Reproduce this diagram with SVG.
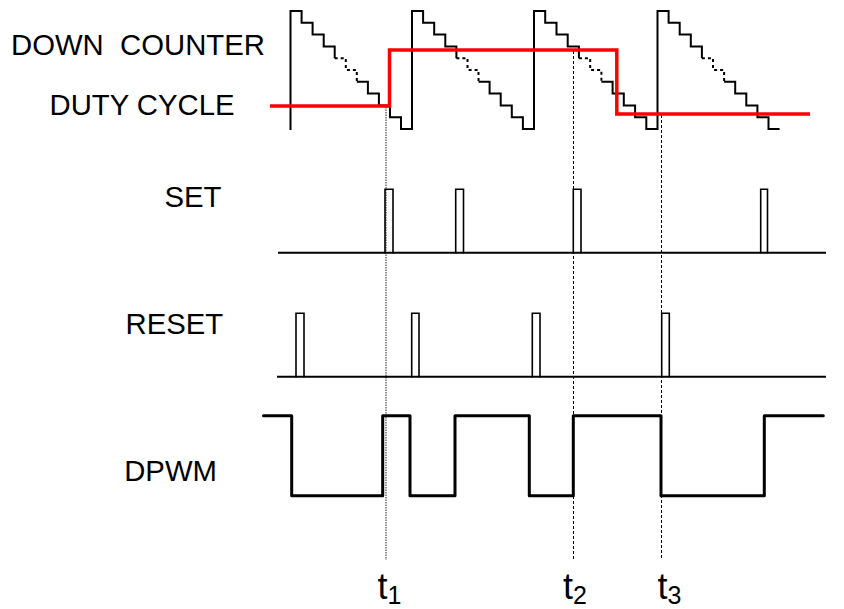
<svg xmlns="http://www.w3.org/2000/svg" width="844" height="609" viewBox="0 0 844 609">
  <style>
    .lbl { font-family: "Liberation Sans", Arial, sans-serif; font-size: 29.3px; fill: #000; white-space: pre; }
    .tlbl { font-family: "Liberation Sans", Arial, sans-serif; font-size: 36px; fill: #000; }
    .sub { font-size: 25px; }
    .wave { fill: none; stroke: #000; stroke-width: 2; stroke-linejoin: miter; }
    .dash { fill: none; stroke: #000; stroke-width: 2; stroke-dasharray: 3 3; }
    .pulse { fill: none; stroke: #000; stroke-width: 1.6; stroke-linecap: square; }
    .base { fill: none; stroke: #000; stroke-width: 2; }
    .duty { fill: none; stroke: #ff0000; stroke-width: 3.5; stroke-linejoin: miter; }
    .dpwm { fill: none; stroke: #000; stroke-width: 3; stroke-linejoin: round; stroke-linecap: round; }
    .mark { fill: none; stroke: #000; stroke-width: 1; stroke-dasharray: 3 2; }
    .mark-grey { fill: none; stroke: #707070; stroke-width: 1.5; stroke-dasharray: 1.5 1; }
  </style>

  <!-- time markers -->
  <g id="markers">
    <line class="mark-grey" x1="386" y1="107" x2="386" y2="560"/>
    <line class="mark" x1="573.5" y1="51" x2="573.5" y2="560"/>
    <line class="mark" x1="661.5" y1="115" x2="661.5" y2="560"/>
  </g>

  <!-- row labels -->
  <g id="labels">
    <text class="lbl" x="11" y="55">DOWN  COUNTER</text>
    <text class="lbl" x="49.5" y="115">DUTY CYCLE</text>
    <text class="lbl" x="164.5" y="207">SET</text>
    <text class="lbl" x="125.5" y="334">RESET</text>
    <text class="lbl" x="124.2" y="480.5">DPWM</text>
  </g>

  <!-- down counter staircase, four periods -->
  <g id="counter">
    <path class="wave" d="M290.5,130 V11 H301.6 V22.8 H312.6 V34.6 H323.7 V46.4 H334.7 V58.2"/>
    <path class="dash" d="M334.7,58.2 H345.8 V70 H356.8 V81.8"/>
    <path class="wave" d="M356.8,81.8 H367.9 V93.6 H378.9 V105.4 H390 V117.2 H401 V129 H412
             V11 H423.1 V22.8 H434.2 V34.6 H445.3 V46.4 H456.4 V58.2"/>
    <path class="dash" d="M456.4,58.2 H467.5 V70 H478.5 V81.8"/>
    <path class="wave" d="M478.5,81.8 H489.6 V93.6 H500.7 V105.4 H511.8 V117.2 H522.9 V129 H534
             V11 H545.2 V22.8 H556.5 V34.6 H567.7 V46.4 H578.9 V58.2"/>
    <path class="dash" d="M578.9,58.2 H590.2 V70 H601.4 V81.8"/>
    <path class="wave" d="M601.4,81.8 H612.6 V93.6 H623.8 V105.4 H635.1 V117.2 H646.3 V129 H657.5
             V11 H668.6 V22.8 H679.7 V34.6 H690.8 V46.4 H701.9 V58.2"/>
    <path class="dash" d="M701.9,58.2 H713 V70 H724.1 V81.8"/>
    <path class="wave" d="M724.1,81.8 H735.2 V93.6 H746.3 V105.4 H757.4 V117.2 H768.5 V129 H779.6"/>
  </g>

  <!-- duty cycle command -->
  <g id="duty">
    <path class="duty" d="M270,106 H389.5 V50 H616.8 V114 H810"/>
  </g>

  <!-- SET pulses -->
  <g id="set">
    <line class="base" x1="278" y1="252.7" x2="826" y2="252.7"/>
    <path class="pulse" d="M385,252.7 V189.3 H393 V252.7"/>
    <path class="pulse" d="M455.7,252.7 V189.3 H463.5 V252.7"/>
    <path class="pulse" d="M573.3,252.7 V189.3 H581 V252.7"/>
    <path class="pulse" d="M760.7,252.7 V189.3 H767.5 V252.7"/>
  </g>

  <!-- RESET pulses -->
  <g id="reset">
    <line class="base" x1="277" y1="376.7" x2="826" y2="376.7"/>
    <path class="pulse" d="M296,376.7 V313.3 H304 V376.7"/>
    <path class="pulse" d="M411.7,376.7 V313.3 H419 V376.7"/>
    <path class="pulse" d="M532.3,376.7 V313.3 H540 V376.7"/>
    <path class="pulse" d="M661.7,376.7 V313.3 H669.3 V376.7"/>
  </g>

  <!-- DPWM output -->
  <g id="dpwm">
    <path class="dpwm" d="M263.5,415.7 H291.7 V495.7 H382.7 V415.7 H410 V495.7 H455 V415.7 H529.3 V495.7 H573.3 V415.7 H661 V495.7 H764.3 V415.7 H823.3"/>
  </g>

  <!-- time labels -->
  <g id="time-labels">
    <text class="tlbl" x="377.5" y="599">t<tspan class="sub" dy="4.5">1</tspan></text>
    <text class="tlbl" x="563" y="599">t<tspan class="sub" dy="4.5">2</tspan></text>
    <text class="tlbl" x="657.5" y="599">t<tspan class="sub" dy="4.5">3</tspan></text>
  </g>
</svg>
